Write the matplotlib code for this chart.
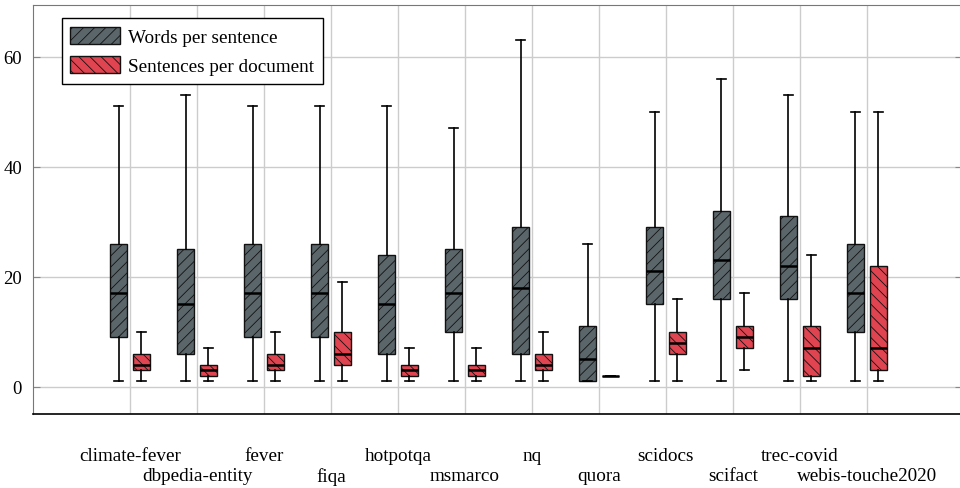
import matplotlib
matplotlib.use("Agg")
import matplotlib.pyplot as plt
from matplotlib.patches import Patch
import matplotlib.transforms as mtransforms

datasets = ["climate-fever", "dbpedia-entity", "fever", "fiqa", "hotpotqa", "msmarco",
            "nq", "quora", "scidocs", "scifact", "trec-covid", "webis-touche2020"]

# words per sentence: (low whisker, Q1, median, Q3, high whisker)
wps_low = [1, 1, 1, 1, 1, 1, 1, 1, 1, 1, 1, 1]
wps_q1 = [9, 6, 9, 9, 6, 10, 6, 1, 15, 16, 16, 10]
wps_med = [17, 15, 17, 17, 15, 17, 18, 5, 21, 23, 22, 17]
wps_q3 = [26, 25, 26, 26, 24, 25, 29, 11, 29, 32, 31, 26]
wps_high = [51, 53, 51, 51, 51, 47, 63, 26, 50, 56, 53, 50]

# sentences per document
spd_low = [1, 1, 1, 1, 1, 1, 1, 2, 1, 3, 1, 1]
spd_q1 = [3, 2, 3, 4, 2, 2, 3, 2, 6, 7, 2, 3]
spd_med = [4, 3, 4, 6, 3, 3, 4, 2, 8, 9, 7, 7]
spd_q3 = [6, 4, 6, 10, 4, 4, 6, 2, 10, 11, 11, 22]
spd_high = [10, 7, 10, 19, 7, 7, 10, 2, 16, 17, 24, 50]

plt.rcParams['font.family'] = ['Liberation Serif', 'DejaVu Serif']
plt.rcParams['hatch.linewidth'] = 0.6

fig = plt.figure(figsize=(9.6, 4.89), dpi=100)
ax = fig.add_axes([33/960, 1 - 415/489, 1 - 33/960 + 0.002, (415 - 5.5)/489])

GREY = "#5b666b"
RED = "#df4450"

def stats(low, q1, med, q3, high):
    return [dict(whislo=a, q1=b, med=c, q3=d, whishi=e, fliers=[])
            for a, b, c, d, e in zip(low, q1, med, q3, high)]

n = len(datasets)
pos = list(range(n))
off = 0.17
w = 0.25

common = dict(widths=w, patch_artist=True, showfliers=False, manage_ticks=False,
              whiskerprops=dict(color="black", linewidth=1.2),
              capprops=dict(color="black", linewidth=1.2),
              medianprops=dict(color="black", linewidth=1.8))

b1 = ax.bxp(stats(wps_low, wps_q1, wps_med, wps_q3, wps_high),
            positions=[p - off for p in pos],
            boxprops=dict(facecolor=GREY, edgecolor="#111111", linewidth=1.0, hatch="///"),
            **common)
b2 = ax.bxp(stats(spd_low, spd_q1, spd_med, spd_q3, spd_high),
            positions=[p + off for p in pos],
            boxprops=dict(facecolor=RED, edgecolor="#111111", linewidth=1.0, hatch="\\\\\\"),
            **common)
for c in b1["caps"] + b2["caps"]:
    x0, x1 = c.get_xdata()
    mid = (x0 + x1) / 2
    c.set_xdata([mid - 0.07, mid + 0.07])

ax.set_xlim(-1.45, 12.42)
ax.set_ylim(-5, 69.5)
ax.set_xticks(pos)
ax.set_xticklabels([])
ax.set_yticks([0, 20, 40, 60])
ax.grid(True, color="#cccccc", linewidth=1.0)
ax.set_axisbelow(True)
ax.tick_params(axis="y", direction="in", length=5, color="#888888", labelsize=13.5,
               right=True, pad=8)
ax.tick_params(axis="x", length=0)
ax.spines["left"].set_color("#777777")
ax.spines["top"].set_color("#777777")
ax.spines["bottom"].set_color("black")
ax.spines["bottom"].set_linewidth(1.2)

trans = mtransforms.blended_transform_factory(ax.transData, fig.transFigure)
for i, name in enumerate(datasets):
    y = 1 - 457/489 if i % 2 == 0 else 1 - 477/489
    ax.text(i, y, name, transform=trans, ha="center", va="center", fontsize=13.8)

handles = [Patch(facecolor=GREY, edgecolor="#111111", hatch="///", label="Words per sentence"),
           Patch(facecolor=RED, edgecolor="#111111", hatch="\\\\\\", label="Sentences per document")]
leg = ax.legend(handles=handles, loc="upper left", bbox_to_anchor=(0.031, 0.967),
                borderaxespad=0,
                fontsize=13.8, frameon=True, fancybox=False, edgecolor="black",
                framealpha=1, borderpad=0.45, handlelength=2.6, handleheight=1.0,
                handletextpad=0.4, labelspacing=0.55)
leg.get_frame().set_linewidth(1.0)

fig.savefig("out.png", dpi=100)
